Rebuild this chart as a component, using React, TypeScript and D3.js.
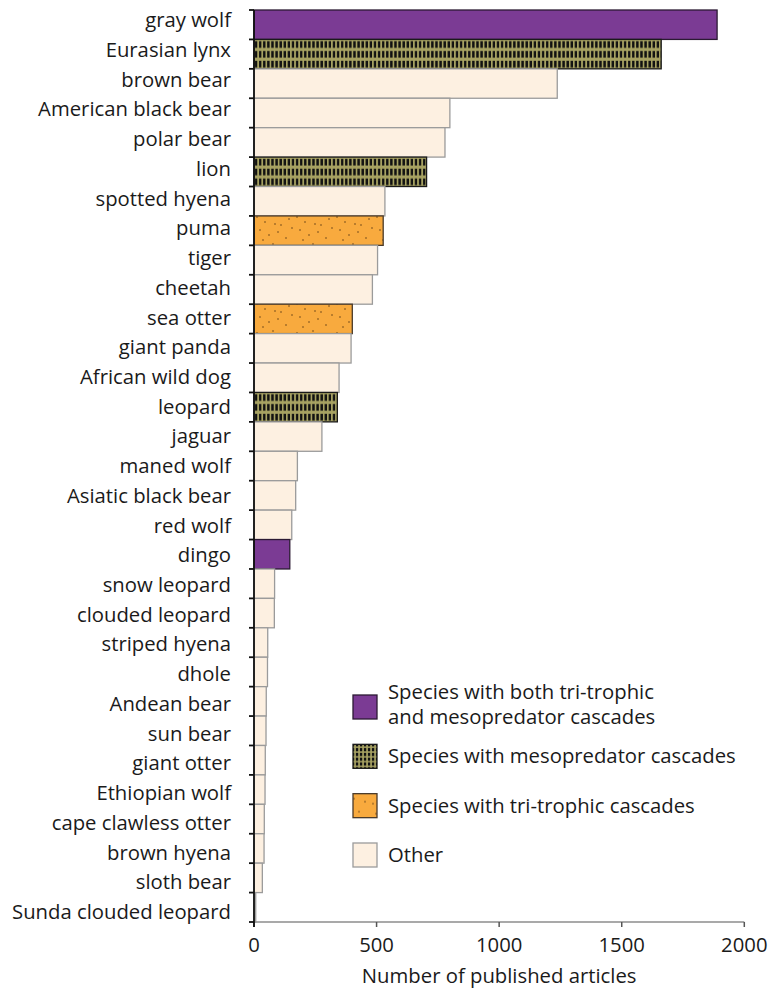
import * as d3 from 'd3';
import React, { useEffect, useRef } from 'react';

const species = [
  'gray wolf', 'Eurasian lynx', 'brown bear', 'American black bear', 'polar bear', 'lion',
  'spotted hyena', 'puma', 'tiger', 'cheetah', 'sea otter', 'giant panda', 'African wild dog',
  'leopard', 'jaguar', 'maned wolf', 'Asiatic black bear', 'red wolf', 'dingo', 'snow leopard',
  'clouded leopard', 'striped hyena', 'dhole', 'Andean bear', 'sun bear', 'giant otter',
  'Ethiopian wolf', 'cape clawless otter', 'brown hyena', 'sloth bear', 'Sunda clouded leopard',
];

const articles = [
  1889, 1661, 1237, 799, 779, 704, 534, 527, 504, 483, 401, 396, 347, 340, 277, 177, 170, 154,
  146, 84, 83, 56, 55, 50, 49, 46, 45, 42, 41, 34, 7,
];

// both = tri-trophic + mesopredator, meso = mesopredator, tri = tri-trophic
const groups = [
  'both', 'meso', 'other', 'other', 'other', 'meso', 'other', 'tri', 'other', 'other', 'tri',
  'other', 'other', 'meso', 'other', 'other', 'other', 'other', 'both', 'other', 'other', 'other',
  'other', 'other', 'other', 'other', 'other', 'other', 'other', 'other', 'other',
];

const xTicks = [0, 500, 1000, 1500, 2000];

const legendKeys = ['both', 'meso', 'tri', 'other'];
const legendLabels = [
  ['Species with both tri-trophic', 'and mesopredator cascades'],
  ['Species with mesopredator cascades'],
  ['Species with tri-trophic cascades'],
  ['Other'],
];

const dotSpots = [
  [3, 4], [11, 9], [19, 2], [27, 12], [35, 6], [6, 17], [15, 22], [24, 19], [32, 25], [38, 15],
  [9, 27], [21, 11],
];

const FONT = "'Open Sans', sans-serif";
const FS = 20.3;

export default function App() {
  const ref = useRef<SVGSVGElement>(null);

  useEffect(() => {
    const width = 777;
    const height = 991;
    const left = 254;
    const top = 10;
    const bottom = 922;

    const svg = d3.select(ref.current).attr('width', width).attr('height', height);
    svg.selectAll('*').remove();

    const x = d3.scaleLinear().domain([0, 2000]).range([left, 744.3]);
    const y = d3.scaleBand().domain(species).range([top, bottom]).padding(0);
    // label baselines are spaced slightly wider than the bars in the original
    const yLabel = d3.scalePoint().domain(species).range([27.3, 919]);

    const defs = svg.append('defs');

    const meso = (id: string, w: number, h: number) => {
      const p = defs
        .append('pattern')
        .attr('id', id)
        .attr('patternUnits', 'userSpaceOnUse')
        .attr('x', left)
        .attr('y', top)
        .attr('width', w)
        .attr('height', h);
      p.append('rect').attr('width', w).attr('height', h).attr('fill', '#a7a262');
      p.append('rect')
        .attr('x', 0.9)
        .attr('y', h * 0.18)
        .attr('width', w * 0.58)
        .attr('height', h * 0.68)
        .attr('fill', '#111');
    };
    meso('meso', 4.1, y.bandwidth() / 3);
    meso('mesoLegend', 4.0, 4.8);

    const tri = defs
      .append('pattern')
      .attr('id', 'tri')
      .attr('patternUnits', 'userSpaceOnUse')
      .attr('width', 40)
      .attr('height', 29)
      .attr('x', left)
      .attr('y', top);
    tri.append('rect').attr('width', 40).attr('height', 29).attr('fill', '#f8aa3e');
    tri
      .selectAll('circle')
      .data(dotSpots)
      .join('circle')
      .attr('cx', (d) => d[0])
      .attr('cy', (d) => d[1])
      .attr('r', 0.75)
      .attr('fill', '#5b3a12');

    const fill: Record<string, string> = {
      both: '#7b3b94',
      meso: 'url(#meso)',
      tri: 'url(#tri)',
      other: '#fdf0e1',
    };
    const stroke: Record<string, string> = {
      both: '#2b1a33',
      meso: '#1a1a1a',
      tri: '#4a3a2a',
      other: '#9b9b9b',
    };

    // bars
    svg
      .append('g')
      .selectAll('rect')
      .data(species)
      .join('rect')
      .attr('x', x(0))
      .attr('y', (d) => y(d) ?? 0)
      .attr('width', (_, i) => x(articles[i]) - x(0))
      .attr('height', y.bandwidth())
      .attr('fill', (_, i) => fill[groups[i]])
      .attr('stroke', (_, i) => stroke[groups[i]])
      .attr('stroke-width', 1.3);

    // x axis
    const xAxis = svg.append('g').attr('transform', `translate(0, ${bottom})`);
    xAxis
      .append('line')
      .attr('x1', x(0))
      .attr('x2', x(2000))
      .attr('stroke', '#8c8c8c')
      .attr('stroke-width', 1.6);
    xAxis
      .selectAll('line.tick')
      .data(xTicks)
      .join('line')
      .attr('class', 'tick')
      .attr('x1', (d) => x(d))
      .attr('x2', (d) => x(d))
      .attr('y1', 0)
      .attr('y2', 5)
      .attr('stroke', '#555')
      .attr('stroke-width', 1.5);
    xAxis
      .selectAll('text')
      .data(xTicks)
      .join('text')
      .attr('x', (d) => x(d))
      .attr('y', 30)
      .attr('text-anchor', 'middle')
      .attr('font-family', FONT)
      .attr('font-size', FS)
      .attr('fill', '#1a1a1a')
      .text((d) => d);
    svg
      .append('text')
      .attr('x', x(1000))
      .attr('y', 983)
      .attr('text-anchor', 'middle')
      .attr('font-family', FONT)
      .attr('font-size', FS)
      .attr('fill', '#1a1a1a')
      .text('Number of published articles');

    // y axis
    const yAxis = svg.append('g');
    yAxis
      .append('line')
      .attr('x1', left)
      .attr('x2', left)
      .attr('y1', top)
      .attr('y2', bottom + 5)
      .attr('stroke', '#111')
      .attr('stroke-width', 1.8);
    const edges = [...species.map((d) => y(d) ?? 0), bottom];
    yAxis
      .selectAll('line.tick')
      .data(edges)
      .join('line')
      .attr('class', 'tick')
      .attr('x1', left - 5)
      .attr('x2', left)
      .attr('y1', (d) => d)
      .attr('y2', (d) => d)
      .attr('stroke', '#111')
      .attr('stroke-width', 1.8);
    yAxis
      .selectAll('text')
      .data(species)
      .join('text')
      .attr('x', 231)
      .attr('y', (d) => yLabel(d) ?? 0)
      .attr('text-anchor', 'end')
      .attr('font-family', FONT)
      .attr('font-size', FS)
      .attr('fill', '#1a1a1a')
      .text((d) => d);

    // legend
    const legendY = d3.scalePoint().domain(legendKeys).range([707, 855]);
    const legendFill: Record<string, string> = { ...fill, meso: 'url(#mesoLegend)' };
    const legend = svg.append('g');
    const item = legend
      .selectAll('g')
      .data(legendKeys)
      .join('g')
      .attr('transform', (d) => `translate(353, ${legendY(d)})`);
    item
      .append('rect')
      .attr('x', 0)
      .attr('y', -12)
      .attr('width', 24)
      .attr('height', 24)
      .attr('fill', (d) => legendFill[d])
      .attr('stroke', (d) => stroke[d])
      .attr('stroke-width', 1.3);
    item
      .append('text')
      .attr('x', 35)
      .attr('font-family', FONT)
      .attr('font-size', FS)
      .attr('fill', '#1a1a1a')
      .selectAll('tspan')
      .data((_, i) => legendLabels[i])
      .join('tspan')
      .attr('x', 35)
      .attr('y', (_, j, nodes) => (nodes.length > 1 ? -8 + j * 25 : 7))
      .text((d) => d);
  }, []);

  return (
    <div style={{ position: 'absolute', left: 0, top: 0 }}>
      <svg ref={ref}></svg>
    </div>
  );
}
